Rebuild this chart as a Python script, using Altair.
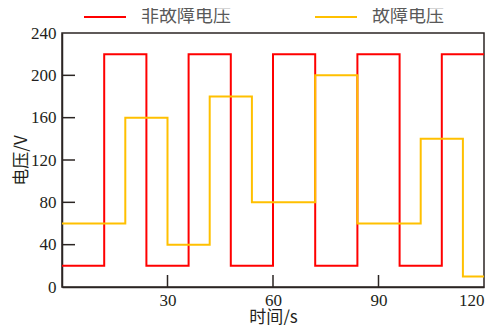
import altair as alt
import pandas as pd

# Data
red_t = [0, 12, 24, 36, 48, 60, 72, 84, 96, 108, 120]
red_v = [20, 220, 20, 220, 20, 220, 20, 220, 20, 220, 220]
yel_t = [0, 18, 30, 42, 54, 72, 84, 102, 114, 120]
yel_v = [60, 160, 40, 180, 80, 200, 60, 140, 10, 10]
series_names = ["非故障电压", "故障电压"]
series_colors = ["#FF0000", "#FFC000"]
x_ticks = [30, 60, 90, 120]
y_ticks = [0, 40, 80, 120, 160, 200, 240]

df = pd.concat([
    pd.DataFrame({"t": red_t, "v": red_v, "s": series_names[0], "o": range(len(red_t))}),
    pd.DataFrame({"t": yel_t, "v": yel_v, "s": series_names[1], "o": range(len(yel_t))}),
])

W, H = 422, 254
axis_color = "#2b2523"
serif = "Liberation Serif"
cjk = "Noto Sans CJK SC"

x_scale = alt.Scale(domain=[0, 120], nice=False, zero=False)
y_scale = alt.Scale(domain=[0, 240], nice=False)

lines = alt.Chart(df).mark_line(interpolate="step-after", strokeWidth=2).encode(
    x=alt.X("t:Q", scale=x_scale,
            axis=alt.Axis(values=x_ticks, title="时间/s", ticks=False, grid=False,
                          labelPadding=5, titleBaseline="alphabetic", titleY=35)),
    y=alt.Y("v:Q", scale=y_scale,
            axis=alt.Axis(values=y_ticks, title="电压/V", ticks=False, grid=False,
                          labelPadding=6, titlePadding=0)),
    color=alt.Color("s:N",
                    scale=alt.Scale(domain=series_names, range=series_colors),
                    sort=series_names,
                    legend=alt.Legend(title=None, orient="none", direction="horizontal",
                                      legendX=21, legendY=-38, symbolType="stroke",
                                      symbolSize=1764, symbolStrokeWidth=2,
                                      labelFont=cjk, labelFontSize=18, labelColor="#595959",
                                      labelOffset=14, columnPadding=80, padding=0)),
    order="o:Q",
)

ytick_df = pd.DataFrame({"v": y_ticks[1:-1]})
yticks = alt.Chart(ytick_df).mark_rule(color=axis_color, strokeWidth=1.5).encode(
    y=alt.Y("v:Q", scale=y_scale),
    x=alt.value(0), x2=alt.value(13),
)

xtick_df = pd.DataFrame({"t": x_ticks[:-1]})
xticks = alt.Chart(xtick_df).mark_rule(color=axis_color, strokeWidth=1.5).encode(
    x=alt.X("t:Q", scale=x_scale),
    y=alt.value(H), y2=alt.value(H - 12),
)

chart = alt.layer(lines, yticks, xticks).properties(
    width=W, height=H,
    autosize=alt.AutoSizeParams(type="none"),
    padding={"left": 54, "top": 25, "right": 12, "bottom": 38},
).configure_view(
    stroke=axis_color, strokeWidth=1.5,
).configure_axis(
    domainColor=axis_color, domainWidth=1.5,
    labelFont=serif, labelFontSize=17, labelColor="#231f20",
    titleFont=cjk, titleFontSize=17, titleFontWeight="normal", titleColor="#231f20",
)

chart.save("out.html", embed_options={"renderer": "svg", "actions": False})
